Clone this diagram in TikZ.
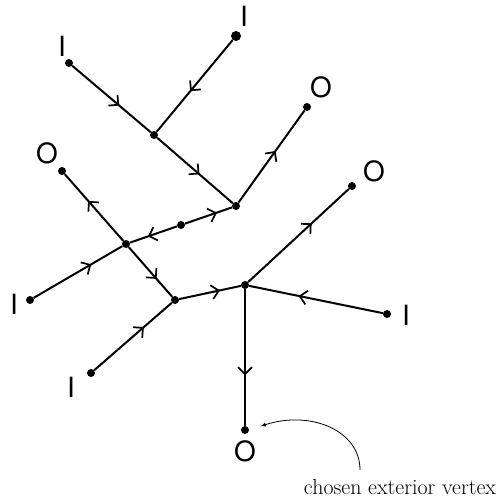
\documentclass[tikz,border=0pt]{standalone}
\usepackage{fontspec}
\newfontfamily\iofont{TeX Gyre Heros}
\usetikzlibrary{arrows.meta,decorations.markings}
\tikzset{
  vtx/.style={circle,fill=black,draw=none,inner sep=0pt,minimum size=8bp},
  io/.style={font=\iofont\fontsize{28}{28}\selectfont,inner sep=0pt},
  flow/.style={line width=2bp,postaction={decorate},
    decoration={markings,mark=at position #1 with
      {\arrow{Straight Barb[length=7bp,width=14bp,line width=1.7bp]}}}},
  flow/.default=0.6,
}
\begin{document}
\begin{tikzpicture}[>=latex,line join=bevel,]
\useasboundingbox (0bp,0bp) rectangle (503bp,-502bp);
%%
\node (node_0) at (69bp,-63bp) [vtx] {};
  \node (node_1) at (236bp,-36bp) [vtx,minimum size=10bp] {};
  \node (node_2) at (154bp,-135bp) [vtx] {};
  \node (node_3) at (236bp,-206bp) [vtx] {};
  \node (node_4) at (307bp,-107bp) [vtx] {};
  \node (node_5) at (62bp,-171bp) [vtx] {};
  \node (node_6) at (181bp,-225bp) [vtx] {};
  \node (node_7) at (126bp,-244bp) [vtx] {};
  \node (node_8) at (30bp,-300bp) [vtx] {};
  \node (node_9) at (175bp,-300bp) [vtx] {};
  \node (node_10) at (91bp,-373bp) [vtx] {};
  \node (node_11) at (245bp,-285bp) [vtx] {};
  \node (node_12) at (352bp,-186bp) [vtx] {};
  \node (node_13) at (387bp,-314bp) [vtx] {};
  \node (node_14) at (245bp,-430bp) [vtx] {};
%
  \node (lbl_0) at (62bp,-46bp) [io] {I};
  \node (lbl_1) at (244bp,-16bp) [io] {I};
  \node (lbl_4) at (321bp,-87bp) [io] {O};
  \node (lbl_5) at (47bp,-153bp) [io] {O};
  \node (lbl_8) at (14bp,-304bp) [io] {I};
  \node (lbl_10) at (71bp,-387bp) [io] {I};
  \node (lbl_12) at (374bp,-171bp) [io] {O};
  \node (lbl_13) at (406bp,-315bp) [io] {I};
  \node (lbl_14) at (245bp,-451bp) [io] {O};
%
  \draw [flow=0.6] (node_0) -- (node_2);
  \draw [flow=0.56] (node_1) -- (node_2);
  \draw [flow=0.56] (node_2) -- (node_3);
  \draw [flow=0.56] (node_3) -- (node_4);
  \draw [flow=0.68] (node_6) -- (node_3);
  \draw [flow=0.62] (node_6) -- (node_7);
  \draw [flow=0.6] (node_7) -- (node_5);
  \draw [flow=0.65] (node_8) -- (node_7);
  \draw [flow=0.64] (node_7) -- (node_9);
  \draw [flow=0.64] (node_10) -- (node_9);
  \draw [flow=0.66] (node_9) -- (node_11);
  \draw [flow=0.63] (node_11) -- (node_12);
  \draw [flow=0.63] (node_13) -- (node_11);
  \draw [flow=0.63] (node_11) -- (node_14);
%
  \node (note) at (400bp,-494bp) [anchor=base,inner sep=0pt,font=\fontsize{22}{26}\selectfont] {chosen exterior vertex};
  \coordinate (note_start) at (360bp,-470bp);
  \draw [black,->,line width=0.8bp,shorten >=12bp] (note_start) ..controls (360bp,-430bp) and (310bp,-410bp)  .. (node_14.east);
%
\end{tikzpicture}
\end{document}
